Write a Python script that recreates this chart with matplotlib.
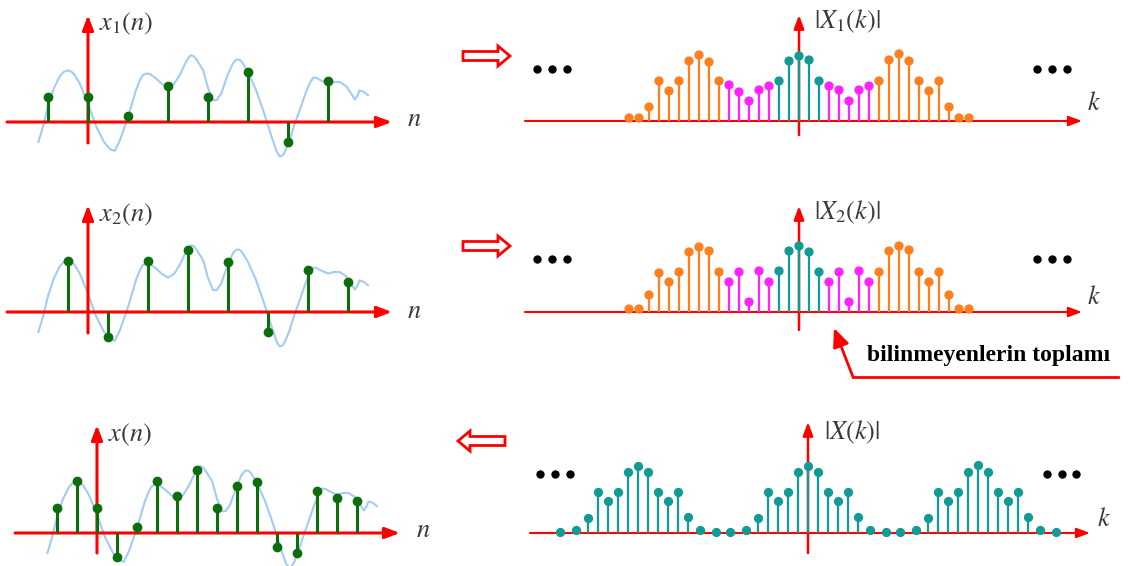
import numpy as np
import matplotlib.pyplot as plt
from matplotlib.patches import FancyArrow

plt.rcParams['mathtext.fontset'] = 'stix'
plt.rcParams['font.family'] = ['Liberation Serif', 'DejaVu Serif']

# analog signal (same curve under all three sequences), n in samples of x1
curve_n = [-1.24, -1.12, -1.0, -0.85, -0.7, -0.6, -0.51, -0.42, -0.35, -0.2, 0.0, 0.2,
           0.4, 0.55, 0.67, 0.8, 1.0, 1.2, 1.3, 1.37, 1.45, 1.55, 1.71, 1.85, 2.0, 2.15,
           2.29, 2.45, 2.52, 2.58, 2.65, 2.72, 2.88, 3.0, 3.13, 3.22, 3.33, 3.5, 3.62,
           3.71, 3.78, 3.85, 4.0, 4.2, 4.38, 4.6, 4.72, 4.79, 4.86, 4.92, 5.04, 5.15,
           5.29, 5.45, 5.55, 5.63, 5.72, 5.8, 6.0, 6.15, 6.29, 6.45, 6.58, 6.67, 6.73,
           6.79, 6.9, 7.0]
curve_v = [-0.5, -0.1, 0.4, 0.85, 1.15, 1.26, 1.29, 1.26, 1.2, 0.95, 0.46, -0.1,
           -0.5, -0.68, -0.72, -0.45, 0.12, 0.8, 1.05, 1.17, 1.21, 1.2, 1.08, 0.95, 0.86,
           0.95, 1.17, 1.5, 1.62, 1.67, 1.64, 1.55, 1.29, 0.85, 0.54, 0.55, 0.71, 1.2,
           1.46, 1.56, 1.56, 1.5, 1.25, 0.8, 0.29, -0.4, -0.75, -0.86, -0.84, -0.75,
           -0.46, -0.1, 0.29, 0.75, 0.98, 1.11, 1.1, 1.05, 0.96, 1.0, 1.0, 0.9, 0.71,
           0.56, 0.65, 0.79, 0.75, 0.67]

# sequences
n1 = [-1, 0, 1, 2, 3, 4, 5, 6]
x1 = [0.62, 0.62, 0.15, 0.9, 0.62, 1.25, -0.5, 1.02]
n2 = [-0.5, 0.5, 1.5, 2.5, 3.5, 4.5, 5.5, 6.5]
x2 = [1.28, -0.62, 1.28, 1.54, 1.25, -0.5, 1.04, 0.75]
n3 = [-1, -0.5, 0, 0.5, 1, 1.5, 2, 2.5, 3, 3.5, 4, 4.5, 5, 5.5, 6, 6.5]
x3 = [0.63, 1.3, 0.63, -0.6, 0.15, 1.3, 0.92, 1.57, 0.63, 1.17, 1.28, -0.35,
      -0.5, 1.05, 0.88, 0.8]

# spectra
k12 = list(range(-17, 18))
X1 = [0.3, 0.3, 1.4, 4.0, 3.0, 4.0, 6.0, 6.6, 5.9, 4.0, 3.6, 2.9, 2.0, 3.1, 3.5, 4.0,
      6.0, 6.5, 6.1, 4.0, 3.5, 3.1, 2.0, 3.1, 3.5, 4.0, 6.1, 6.7, 6.0, 4.0, 3.0, 4.0,
      1.4, 0.3, 0.3]
X2 = [0.3, 0.3, 1.7, 3.9, 3.0, 4.0, 6.0, 6.5, 6.1, 4.0, 3.0, 4.0, 1.0, 4.1, 3.0, 4.1,
      6.1, 6.6, 6.0, 4.0, 3.0, 4.0, 1.0, 4.1, 3.0, 4.0, 6.1, 6.6, 6.2, 4.0, 3.0, 4.0,
      1.7, 0.3, 0.3]
k3 = [-24.8, -23.2, -22, -21, -20, -19, -18, -17, -16, -15, -14, -13, -12, -10.8, -9.2,
      -7.8, -6.2, -5, -4, -3, -2, -1, 0, 1, 2, 3, 4, 5, 6.2, 7.8, 9.2, 10.8, 12, 13, 14,
      15, 16, 17, 18, 19, 20, 21, 22, 23.2, 24.8]
X3 = [0.1, 0.3, 1.5, 4.1, 3.2, 4.1, 6.1, 6.7, 6.1, 4.1, 3.2, 4.1, 1.6, 0.3, 0.1, 0.1,
      0.3, 1.5, 4.1, 3.2, 4.1, 6.1, 6.7, 6.1, 4.1, 3.2, 4.1, 1.6, 0.3, 0.1, 0.1, 0.3,
      1.5, 4.1, 3.2, 4.1, 6.1, 6.8, 6.1, 4.1, 3.2, 4.1, 1.6, 0.3, 0.1]

GREEN = '#0b6e0b'
CURVE = '#a3cbf3'
ORANGE = '#ff7f1e'
MAGENTA = '#ff22ff'
TEAL = '#129a97'
RED = '#ff0000'
TXT = '#3a3a3a'

W, H = 1128, 566
fig = plt.figure(figsize=(W / 100, H / 100), dpi=100)


def panel(left, right, top, bottom, ox, oy, sx, sy):
    ax = fig.add_axes([left / W, 1 - bottom / H, (right - left) / W, (bottom - top) / H])
    ax.set_xlim((left - ox) / sx, (right - ox) / sx)
    ax.set_ylim((oy - bottom) / sy, (oy - top) / sy)
    ax.axis('off')
    return ax


def red_axes(ax, lwx, lwy, ms):
    head = '-|>,head_length=0.8,head_width=0.3'
    ax.annotate('', xy=(1, 0), xytext=(0, 0), xycoords=('axes fraction', 'data'),
                textcoords=('axes fraction', 'data'),
                arrowprops=dict(arrowstyle=head, color=RED, lw=lwx, mutation_scale=ms,
                                shrinkA=0, shrinkB=0))
    ax.annotate('', xy=(0, 1), xytext=(0, 0), xycoords=('data', 'axes fraction'),
                textcoords=('data', 'axes fraction'),
                arrowprops=dict(arrowstyle=head, color=RED, lw=lwy, mutation_scale=ms,
                                shrinkA=0, shrinkB=0))


def time_panel(ax, n, x):
    ax.plot(curve_n, curve_v, color=CURVE, lw=1.5, clip_on=False, zorder=1)
    red_axes(ax, 2.2, 2.2, 11)
    ax.vlines(n, 0, x, colors=GREEN, lw=2.2, zorder=3, clip_on=False)
    ax.plot(n, x, 'o', color=GREEN, ms=6, zorder=4, clip_on=False)


def spec_colors(k):
    a = np.abs(np.array(k))
    return np.where(a <= 2, TEAL, np.where(a <= 7, MAGENTA, ORANGE))


def freq_panel(ax, k, X, cols):
    red_axes(ax, 1.5, 1.8, 10)
    ax.vlines(k, 0, X, colors=cols, lw=1.6, zorder=3, clip_on=False)
    ax.scatter(k, X, c=cols, s=32, zorder=4, clip_on=False)


ax1 = panel(7, 392, 15, 143, 88, 122, 40, 40)
time_panel(ax1, n1, x1)
ax2 = panel(7, 392, 205, 333, 88, 312, 40, 40)
time_panel(ax2, n2, x2)
ax3 = panel(15, 400, 425, 553, 97, 533, 40, 40)
time_panel(ax3, n3, x3)

ax4 = panel(525, 1082, 15, 135, 799, 121, 10, 10)
freq_panel(ax4, k12, X1, spec_colors(k12))
ax5 = panel(525, 1082, 206, 330, 799, 312, 10, 10)
freq_panel(ax5, k12, X2, spec_colors(k12))
ax6 = panel(530, 1090, 422, 553, 808, 533, 10, 10)
freq_panel(ax6, k3, X3, TEAL)

# overlay in pixel coordinates for labels and decorations
ov = fig.add_axes([0, 0, 1, 1], zorder=10)
ov.set_xlim(0, W)
ov.set_ylim(H, 0)
ov.axis('off')
ov.patch.set_alpha(0)

fs = 19
ov.text(99, 24, r'$x_1(n)$', fontsize=fs, color=TXT, va='center')
ov.text(99, 215, r'$x_2(n)$', fontsize=fs, color=TXT, va='center')
ov.text(108, 435, r'$x(n)$', fontsize=fs, color=TXT, va='center')
ov.text(407, 120, r'$n$', fontsize=fs, color=TXT, va='center')
ov.text(407, 312, r'$n$', fontsize=fs, color=TXT, va='center')
ov.text(416, 531, r'$n$', fontsize=fs, color=TXT, va='center')
ov.text(814, 21, r'$|X_1(k)|$', fontsize=fs, color=TXT, va='center')
ov.text(814, 212, r'$|X_2(k)|$', fontsize=fs, color=TXT, va='center')
ov.text(824, 432, r'$|X(k)|$', fontsize=fs, color=TXT, va='center')
ov.text(1087, 103, r'$k$', fontsize=fs, color=TXT, va='center')
ov.text(1087, 297, r'$k$', fontsize=fs, color=TXT, va='center')
ov.text(1097, 519, r'$k$', fontsize=fs, color=TXT, va='center')

for yy in (69, 259):
    ov.plot([537, 552, 567], [yy] * 3, 'o', color='black', ms=5)
    ov.plot([1037, 1052, 1067], [yy] * 3, 'o', color='black', ms=5)
ov.plot([540, 555, 570], [474] * 3, 'o', color='black', ms=5)
ov.plot([1047, 1062, 1076], [474] * 3, 'o', color='black', ms=5)

for yy in (56, 246):
    ov.add_patch(FancyArrow(463, yy, 47, 0, width=9, head_width=20, head_length=12,
                            length_includes_head=True, fc='white', ec=RED, lw=2))
ov.add_patch(FancyArrow(505, 441, -47, 0, width=9, head_width=20, head_length=12,
                        length_includes_head=True, fc='white', ec=RED, lw=2))

ov.plot([1118, 853], [377, 377], color=RED, lw=2)
ov.annotate('', xy=(834, 328), xytext=(853, 377),
            arrowprops=dict(arrowstyle='-|>,head_length=0.8,head_width=0.35', color=RED,
                            lw=2, mutation_scale=14, shrinkA=0, shrinkB=0))
ov.text(867, 356, 'bilinmeyenlerin toplamı', fontsize=17, fontweight='bold',
        color='black', va='center')

fig.savefig('out.png', dpi=100, facecolor='white')
